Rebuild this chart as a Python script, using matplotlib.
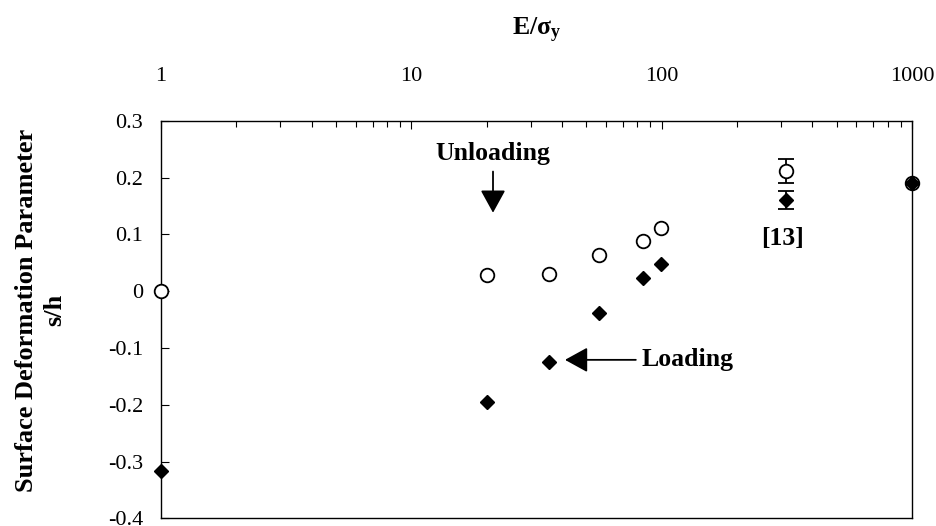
import matplotlib.pyplot as plt
from matplotlib.ticker import FixedLocator, FixedFormatter, NullFormatter, LogLocator

plt.rcParams['font.family'] = ['Liberation Serif', 'DejaVu Serif']
plt.rcParams['mathtext.fontset'] = 'custom'
plt.rcParams['mathtext.rm'] = 'Liberation Serif'
plt.rcParams['mathtext.bf'] = 'Liberation Serif:bold'

# E/sigma_y values and s/h for the unloading (open circles) and loading (diamonds) cases
ratio = [1, 20, 35.4, 56.3, 84.2, 99.7, 1000]
s_unload = [0.0, 0.028, 0.031, 0.063, 0.089, 0.112, 0.191]
s_load = [-0.316, -0.195, -0.124, -0.038, 0.023, 0.048, 0.191]

# reference [13] with scatter
ref_ratio = [313]
ref_unload = [0.211]
ref_unload_err = [0.021]
ref_load = [0.161]
ref_load_err = [0.016]

xticks = [1, 10, 100, 1000]
xtick_labels = ['1', '10', '100', '1000']
yticks = [-0.4, -0.3, -0.2, -0.1, 0.0, 0.1, 0.2, 0.3]
ytick_labels = ['-0.4', '-0.3', '-0.2', '-0.1', '0', '0.1', '0.2', '0.3']

fig = plt.figure(figsize=(9.37, 5.26), dpi=100)
ax = fig.add_axes([0.1718, 0.0146, 0.8015, 0.7559])

ax.plot(ratio, s_unload, 'o', ms=9.8, mfc='white', mec='black', mew=1.3,
        clip_on=False, zorder=3)
ax.plot(ratio, s_load, 'D', ms=6.8, mfc='black', mec='black',
        clip_on=False, zorder=4)

ax.errorbar(ref_ratio, ref_unload, yerr=ref_unload_err, fmt='o', ms=9.8,
            mfc='white', mec='black', mew=1.3, ecolor='black', elinewidth=1.3,
            capsize=5.8, capthick=1.3, zorder=3)
ax.errorbar(ref_ratio, ref_load, yerr=ref_load_err, fmt='D', ms=6.8,
            mfc='black', mec='black', ecolor='black', elinewidth=1.3,
            capsize=5.8, capthick=1.3, zorder=4)

ax.set_xscale('log')
ax.set_xlim(1, 1000)
ax.set_ylim(-0.4, 0.3)

ax.xaxis.set_major_locator(FixedLocator(xticks))
ax.xaxis.set_major_formatter(FixedFormatter(xtick_labels))
ax.xaxis.set_minor_locator(LogLocator(base=10, subs=range(2, 10)))
ax.xaxis.set_minor_formatter(NullFormatter())
ax.yaxis.set_major_locator(FixedLocator(yticks))
ax.yaxis.set_major_formatter(FixedFormatter(ytick_labels))

ax.xaxis.tick_top()
ax.xaxis.set_label_position('top')
ax.tick_params(axis='x', which='major', direction='in', length=6, width=0.8,
               labelsize=16, pad=25, top=True, bottom=False)
ax.tick_params(axis='x', which='minor', direction='in', length=4.5, width=0.8,
               top=True, bottom=False)
ax.tick_params(axis='y', which='major', direction='in', length=6, width=0.8,
               labelsize=16, pad=13)
for sp in ax.spines.values():
    sp.set_linewidth(1.0)

ax.set_xlabel(r'E/$\mathbf{\sigma_y}$', fontsize=18.5, fontweight='bold', labelpad=23)
ax.set_ylabel('Surface Deformation Parameter\ns/h', fontsize=19,
              fontweight='bold', labelpad=30, linespacing=1.3, y=0.523)

arrow_style = '-|>,head_length=1.0,head_width=0.55'
ax.annotate('Unloading', xy=(21.2, 0.138), xytext=(21.2, 0.243),
            ha='center', va='center', fontsize=18.5, fontweight='bold',
            arrowprops=dict(arrowstyle=arrow_style, mutation_scale=14,
                            lw=1.3, color='black', shrinkA=3, shrinkB=0))
ax.annotate('Loading', xy=(41.1, -0.121), xytext=(83, -0.121),
            ha='left', va='center', fontsize=18.5, fontweight='bold',
            arrowprops=dict(arrowstyle=arrow_style, mutation_scale=14,
                            lw=1.3, color='black', shrinkA=2, shrinkB=0))
ax.text(304, 0.093, '[13]', ha='center', va='center', fontsize=18.5,
        fontweight='bold')

fig.savefig('out.png', dpi=100)
